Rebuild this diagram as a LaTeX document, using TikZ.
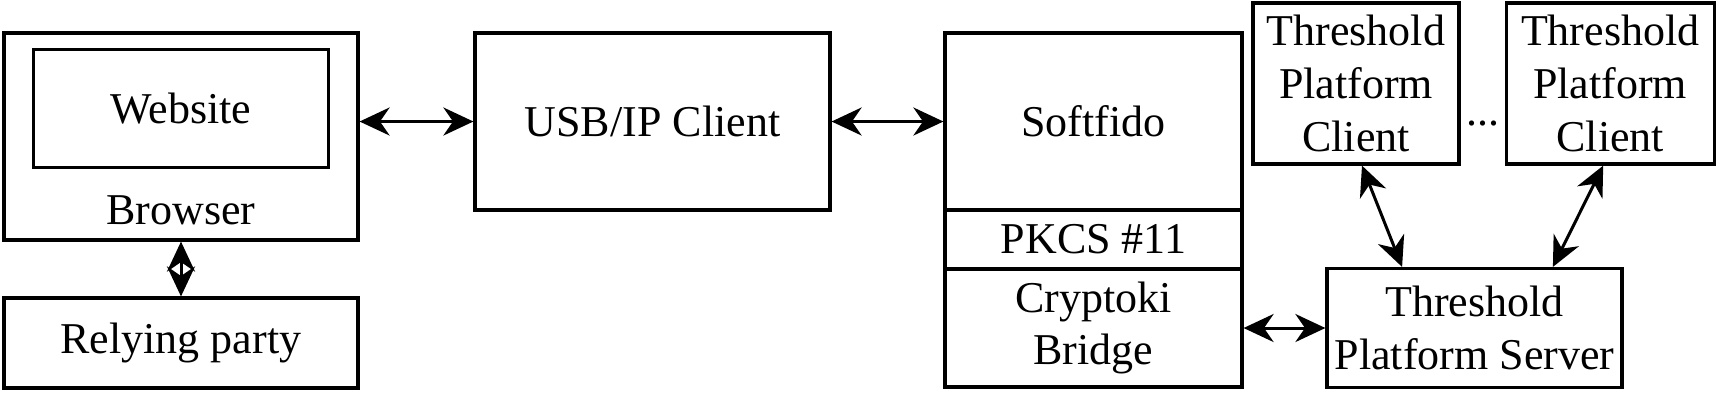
\documentclass[tikz,border=0pt]{standalone}
\usepackage{fontspec}
\setmainfont{Liberation Serif}
\usepackage{tikz}
\usetikzlibrary{arrows.meta}
\usetikzlibrary{positioning}

\begin{document}
\begin{tikzpicture}[auto, font=\fontsize{11}{13.2}\selectfont]
	\tikzstyle{box}=[rectangle, draw=black!100, line width=0.8pt, align=center, inner sep=0pt]
	\tikzstyle{connect}=[{Stealth[length=7.5pt, width=7pt, inset=2.4pt]}-{Stealth[length=7.5pt, width=7pt, inset=2.4pt]}, line width=0.75pt]
	
	\useasboundingbox (0,0) rectangle (429pt,-100pt);
	
	\node[box, minimum width=88.5pt, minimum height=51.75pt] at (45.25pt, -34.125pt) (browser) {};
	\node[box, minimum width=73.75pt, minimum height=29.5pt] (website) [below=4.1pt of browser.north] {Website};
	\node[anchor=base, inner sep=0pt] at ([yshift=4.25pt]browser.south) (browsertext) {Browser};
	
	\node[box, minimum width=88.5pt, minimum height=22.5pt] (rp) [below=13.7pt of browser] {Relying party};
	
	\node[box, minimum width=88.75pt, minimum height=44.25pt] (usb) [right=28.45pt of browser.north east, anchor=north west] {USB/IP Client};
	
	\node[box, minimum width=74.25pt, minimum height=44.25pt] (soft) [right=27.95pt of usb] {Softfido};
	\node[box, minimum width=74.25pt, minimum height=14.75pt] (pkcs) [below=-0.8pt of soft] {PKCS \#11};
	\node[box, minimum width=74.25pt, minimum height=29.5pt] (crypto) [below=-0.8pt of pkcs] {Cryptoki\\Bridge};
	
	\node[box, minimum width=73.75pt, minimum height=29.75pt] (server) [right=20.45pt of crypto] {Threshold\\Platform Server};
	
	\node[box, minimum width=51.5pt, minimum height=40.25pt] at (339pt, -20.875pt) (tpc1) {Threshold\\Platform\\Client};
	\node[box, minimum width=52pt, minimum height=40.25pt] (tpc2) [right=11pt of tpc1] {Threshold\\Platform\\Client};
	\path (tpc1.east) -- (tpc2.west) node[midway, yshift=-10.8pt, inner sep=0pt] (dots) {...};
	
	\path (browser.east |- usb.west) edge [connect] (usb.west)
	(usb) edge [connect] (soft)
	(browser) edge [connect] (rp)
	
	(crypto.east) edge [connect] (crypto.east -| server.west)
	
	([xshift=1.5pt]tpc1.south) edge [connect] ([xshift=-18.1pt]server.north)
	([xshift=-1.75pt]tpc2.south) edge [connect] ([xshift=19.6pt]server.north);
	
\end{tikzpicture}
\end{document}
